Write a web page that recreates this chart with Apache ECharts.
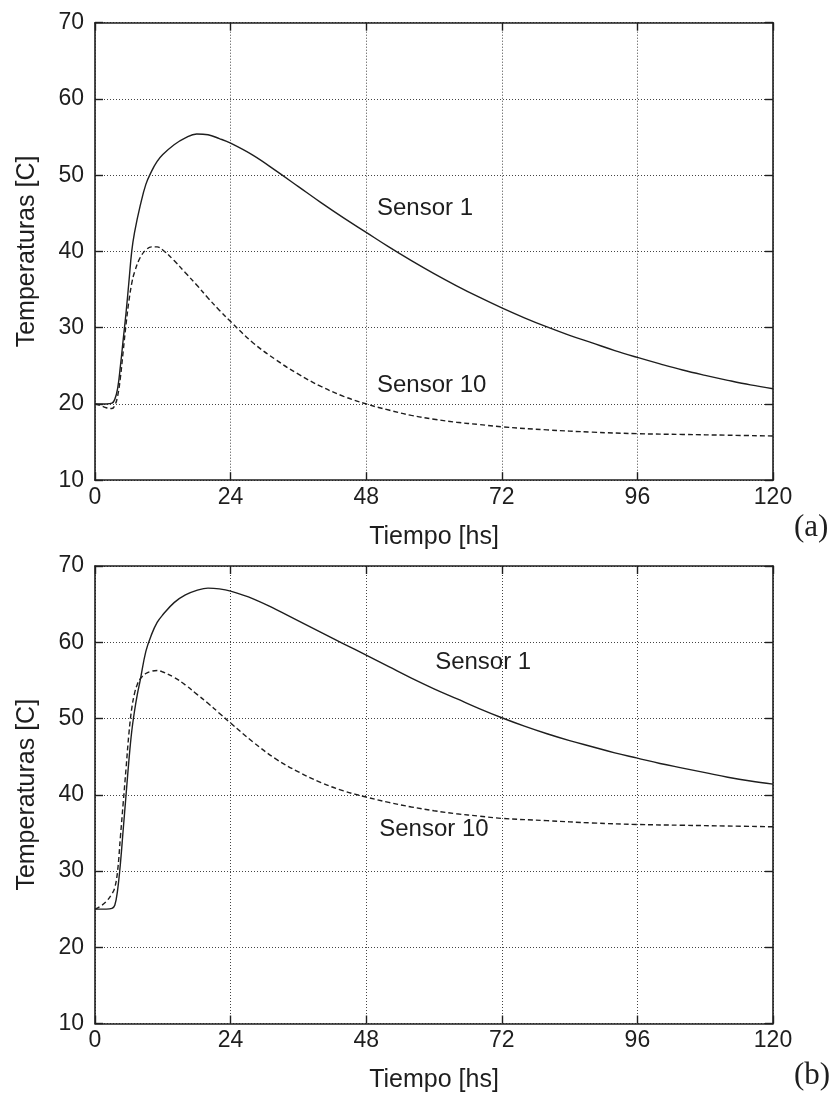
<!DOCTYPE html>
<html><head><meta charset="utf-8">
<script src="https://cdn.jsdelivr.net/npm/echarts@6/dist/echarts.min.js"></script>
<style>html,body{margin:0;padding:0;background:#fff}#c{width:835px;height:1097px}</style>
</head><body><div id="c"></div>
<script>
// ---- data (hours, degrees C) ----
const timeA = [0,1,2,3,3.5,4,4.5,5,5.5,6,6.5,7,8,9,10,11,12,14,16,18,20,22,24,28,32,36,40,44,48,52,56,60,64,68,72,76,80,84,88,92,96,100,104,108,112,116,120];
const sensor1A = [20,20,20,20.1,20.6,22,25,28.5,32,36,40,42.5,46,48.8,50.5,51.8,52.7,54,54.9,55.4,55.3,54.8,54.2,52.6,50.6,48.5,46.4,44.4,42.5,40.6,38.8,37.1,35.5,34.0,32.6,31.3,30.1,29.0,28.0,27.0,26.1,25.25,24.45,23.75,23.1,22.5,22.0];
const time10A = [0,1,2,3,3.5,4,4.5,5,5.5,6,6.5,7,8,9,10,11,12,14,16,18,20,22,24,28,32,36,40,44,48,52,56,60,64,68,72,80,88,96,104,112,120];
const sensor10A = [20,19.8,19.5,19.4,19.8,21,23.5,27,30.5,33.5,35.8,37.3,39.2,40.2,40.6,40.6,40.2,38.8,37.2,35.6,33.9,32.3,30.8,28.0,25.8,23.9,22.3,21.0,20.0,19.2,18.5,18.0,17.6,17.3,17.0,16.6,16.3,16.1,16.0,15.9,15.8];

const timeB = [0,1,2,3,3.5,4,4.5,5,5.5,6,6.5,7,7.5,8,9,10,11,12,14,16,18,20,22,24,28,32,36,40,44,48,52,56,60,64,68,72,76,80,84,88,92,96,100,104,108,112,116,120];
const sensor1B = [25,25,25,25.1,25.5,27.5,31,35.5,40,44.5,48.3,51,53.2,55,58.8,61,62.6,63.6,65.2,66.2,66.8,67.1,67.0,66.7,65.7,64.3,62.8,61.3,59.8,58.3,56.8,55.3,53.9,52.6,51.3,50.1,49.0,48.0,47.1,46.3,45.5,44.8,44.1,43.5,42.9,42.3,41.8,41.4];
const time10B = [0,1,2,3,3.5,4,4.5,5,5.5,6,6.5,7,7.5,8,9,10,11,12,14,16,18,20,22,24,28,32,36,40,44,48,52,56,60,64,68,72,80,88,96,104,112,120];
const sensor10B = [25,25.4,26,27,27.8,30,34.5,39,43.5,48,51.3,53.3,54.5,55.2,55.9,56.2,56.3,56.1,55.4,54.4,53.2,52.0,50.7,49.4,46.9,44.7,43.0,41.6,40.5,39.7,39.0,38.4,37.9,37.5,37.2,36.9,36.6,36.3,36.1,36.0,35.9,35.8];

const xTicks = [0,24,48,72,96,120];
const yTicks = [10,20,30,40,50,60,70];
const panelLabels = ['(a)','(b)'];
const seriesNames = ['Sensor 1','Sensor 10'];

function pairs(t, v){ return t.map((x,i)=>[x, v[i]]); }

const font = '"Liberation Sans", Arial, Helvetica, sans-serif';
const ink = '#1e1e1e';
const chart = echarts.init(document.getElementById('c'));

const grids = [
  {left:95, top:22.7, width:678, height:457.5},
  {left:95, top:566, width:678, height:457.5}
];

const xAxis = [], yAxis = [];
grids.forEach((g, gi) => {
  const line = {show:true, onZero:false, lineStyle:{color:ink, width:1.6}};
  const tick = {show:true, inside:true, length:8, lineStyle:{color:ink, width:1.4}};
  xAxis.push({type:'value', gridIndex:gi, min:xTicks[0], max:xTicks[xTicks.length-1], interval:24, position:'bottom',
    axisLine:line, axisTick:tick,
    axisLabel:{show:true, margin:6, fontSize:23, color:ink, fontFamily:font},
    splitLine:{show:true, lineStyle:{color:'#444', type:[1,2], width:1}},
    name:'Tiempo [hs]', nameLocation:'middle', nameGap:44,
    nameTextStyle:{fontSize:25, color:ink, fontFamily:font}});
  xAxis.push({type:'value', gridIndex:gi, min:xTicks[0], max:xTicks[xTicks.length-1], interval:24, position:'top',
    axisLine:line, axisTick:tick, axisLabel:{show:false}, splitLine:{show:false}});
  yAxis.push({type:'value', gridIndex:gi, min:yTicks[0], max:yTicks[yTicks.length-1], interval:10, position:'left',
    axisLine:line, axisTick:tick,
    axisLabel:{show:true, margin:11, fontSize:23, color:ink, fontFamily:font},
    splitLine:{show:true, lineStyle:{color:'#444', type:[1,2], width:1}},
    name:'Temperaturas [C]', nameLocation:'middle', nameGap:55,
    nameTextStyle:{fontSize:25, color:ink, fontFamily:font}});
  yAxis.push({type:'value', gridIndex:gi, min:yTicks[0], max:yTicks[yTicks.length-1], interval:10, position:'right',
    axisLine:line, axisTick:tick, axisLabel:{show:false}, splitLine:{show:false}});
});

function lineSeries(name, data, axis, dashed){
  return {type:'line', name:name, xAxisIndex:axis, yAxisIndex:axis, data:data,
    showSymbol:false, smooth:0.4, animation:false,
    lineStyle:{color:ink, width:1.4, type: dashed ? [5,3] : 'solid'}};
}

chart.setOption({
  animation:false,
  backgroundColor:'#fff',
  grid:grids,
  xAxis:xAxis,
  yAxis:yAxis,
  series:[
    lineSeries(seriesNames[0], pairs(timeA, sensor1A), 0, false),
    lineSeries(seriesNames[1], pairs(time10A, sensor10A), 0, true),
    lineSeries(seriesNames[0], pairs(timeB, sensor1B), 2, false),
    lineSeries(seriesNames[1], pairs(time10B, sensor10B), 2, true)
  ]
});

// annotations anchored in data coordinates
const notes = [
  {axis:0, t:49.9, v:45.6, text:seriesNames[0]},
  {axis:0, t:49.9, v:22.5, text:seriesNames[1]},
  {axis:2, t:60.2, v:57.4, text:seriesNames[0]},
  {axis:2, t:50.3, v:35.4, text:seriesNames[1]}
];
const graphic = notes.map(n => {
  const p = chart.convertToPixel({xAxisIndex:n.axis, yAxisIndex:n.axis}, [n.t, n.v]);
  return {type:'text', x:p[0], y:p[1], style:{text:n.text, fill:ink, font:'24px ' + font, textAlign:'left', textVerticalAlign:'middle'}};
});
const serif = '"Liberation Serif", "DejaVu Serif", serif';
graphic.push({type:'text', x:794, y:528, style:{text:panelLabels[0], fill:ink, font:'31px ' + serif, textAlign:'left', textVerticalAlign:'middle'}});
graphic.push({type:'text', x:794, y:1076, style:{text:panelLabels[1], fill:ink, font:'31px ' + serif, textAlign:'left', textVerticalAlign:'middle'}});
chart.setOption({graphic:graphic});
</script>
</body></html>
